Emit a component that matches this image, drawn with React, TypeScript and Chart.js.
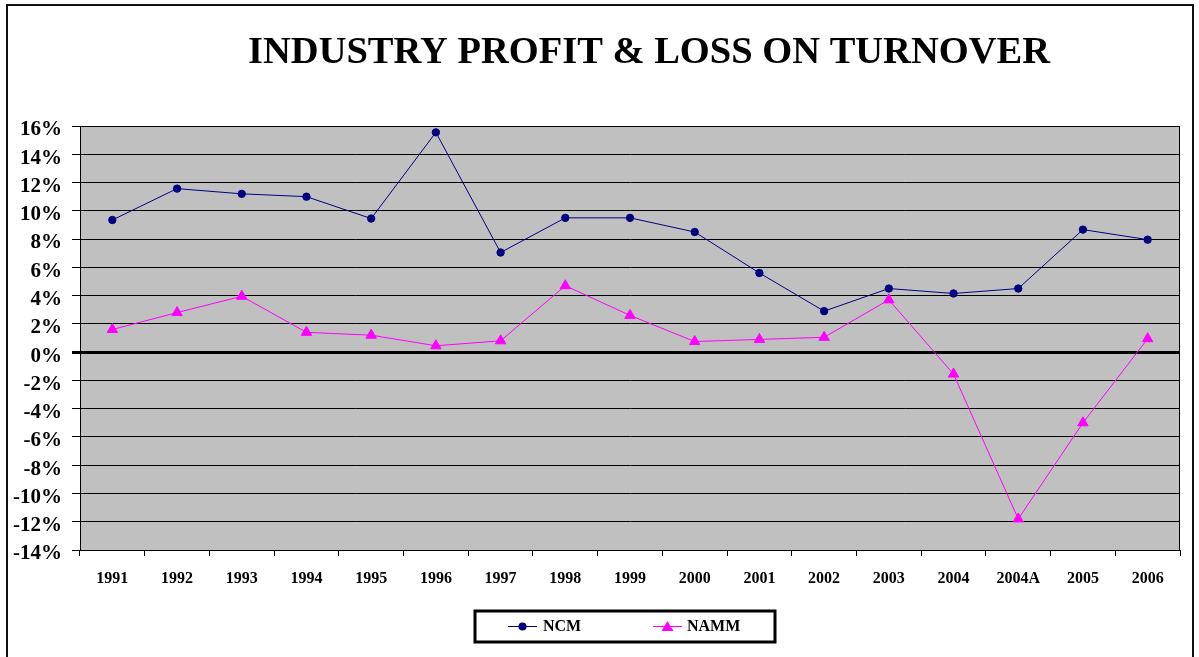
import React, { useEffect, useRef } from "react";
import { Chart, registerables } from "chart.js";

Chart.register(...registerables);

const categories = ["1991", "1992", "1993", "1994", "1995", "1996", "1997", "1998", "1999", "2000", "2001", "2002", "2003", "2004", "2004A", "2005", "2006"];
const ncmValues = [9.35, 11.57, 11.2, 11.0, 9.45, 15.55, 7.05, 9.5, 9.5, 8.5, 5.6, 2.9, 4.5, 4.15, 4.5, 8.67, 7.96];
const nammValues = [1.6, 2.8, 3.95, 1.4, 1.2, 0.45, 0.8, 4.7, 2.6, 0.75, 0.9, 1.05, 3.7, -1.55, -11.8, -5.0, 0.95];
const yMin = -14;
const yMax = 16;
const yStep = 2;
const titleText = "INDUSTRY PROFIT & LOSS ON TURNOVER";
const seriesNames = ["NCM", "NAMM"];

const FONT = '"Liberation Serif", "Times New Roman", serif';

export default function App() {
  const ref = useRef<HTMLCanvasElement | null>(null);

  useEffect(() => {
    document.body.style.margin = "0";
    const canvas = ref.current;
    if (!canvas) return;

    const decor = {
      id: "decor",
      beforeDraw(chart: any) {
        const { ctx, chartArea } = chart;
        ctx.save();
        ctx.fillStyle = "#ffffff";
        ctx.fillRect(0, 0, chart.width, chart.height);
        ctx.fillStyle = "#C0C0C0";
        ctx.fillRect(chartArea.left, chartArea.top, chartArea.right - chartArea.left, chartArea.bottom - chartArea.top);
        ctx.restore();
      },
      afterDraw(chart: any) {
        const { ctx, chartArea } = chart;
        ctx.save();
        // plot border
        ctx.strokeStyle = "#000";
        ctx.lineWidth = 1;
        ctx.strokeRect(chartArea.left + 0.5, chartArea.top + 0.5, chartArea.right - chartArea.left - 1, chartArea.bottom - chartArea.top);
        // outer frame
        ctx.lineWidth = 2;
        ctx.strokeStyle = "#111";
        ctx.strokeRect(7, 5, 1186, 700);
        // title
        ctx.fillStyle = "#000";
        ctx.font = `bold 38.5px ${FONT}`;
        ctx.textAlign = "center";
        ctx.textBaseline = "alphabetic";
        ctx.fillText(titleText, 649, 63);
        // legend box
        ctx.lineWidth = 3;
        ctx.strokeStyle = "#000";
        ctx.strokeRect(475, 611, 300, 31);
        const ds = chart.data.datasets;
        const items = [
          { x0: 508, x1: 537, tx: 543, d: ds[0] },
          { x0: 653, x1: 682, tx: 687, d: ds[1] },
        ];
        const ly = 626;
        items.forEach((it, i) => {
          ctx.strokeStyle = it.d.borderColor;
          ctx.lineWidth = 1;
          ctx.beginPath();
          ctx.moveTo(it.x0, ly + 0.5);
          ctx.lineTo(it.x1, ly + 0.5);
          ctx.stroke();
          ctx.fillStyle = it.d.pointBackgroundColor;
          const cx = (it.x0 + it.x1) / 2;
          if (i === 0) {
            ctx.beginPath();
            ctx.arc(cx, ly + 0.5, 4, 0, Math.PI * 2);
            ctx.fill();
          } else {
            ctx.beginPath();
            ctx.moveTo(cx, ly - 5);
            ctx.lineTo(cx + 6, ly + 5);
            ctx.lineTo(cx - 6, ly + 5);
            ctx.closePath();
            ctx.fill();
          }
          ctx.fillStyle = "#000";
          ctx.font = `bold 16px ${FONT}`;
          ctx.textAlign = "left";
          ctx.textBaseline = "middle";
          ctx.fillText(seriesNames[i], it.tx, ly + 1);
        });
        ctx.restore();
      },
    };

    const chart = new Chart(canvas, {
      type: "line",
      data: {
        labels: categories,
        datasets: [
          {
            label: seriesNames[0],
            data: ncmValues,
            borderColor: "#000080",
            backgroundColor: "#000080",
            pointBackgroundColor: "#000080",
            pointBorderColor: "#000080",
            borderWidth: 1,
            pointStyle: "circle",
            pointRadius: 3.7,
            tension: 0,
          },
          {
            label: seriesNames[1],
            data: nammValues,
            borderColor: "#FF00FF",
            backgroundColor: "#FF00FF",
            pointBackgroundColor: "#FF00FF",
            pointBorderColor: "#FF00FF",
            borderWidth: 1,
            pointStyle: "triangle",
            pointRadius: 6,
            tension: 0,
          },
        ],
      },
      options: {
        responsive: false,
        animation: false,
        devicePixelRatio: 1,
        layout: { padding: { left: 0, top: 126, right: 19, bottom: 0 } },
        plugins: {
          legend: { display: false },
          title: { display: false },
          tooltip: { enabled: false },
        },
        scales: {
          x: {
            type: "category",
            offset: true,
            grid: {
              display: true,
              offset: true,
              drawOnChartArea: false,
              drawTicks: true,
              tickLength: 6,
              color: "#000",
            },
            border: { display: true, color: "#000", width: 1 },
            ticks: {
              color: "#000",
              font: { family: FONT, size: 16, weight: "bold" },
              padding: 13,
              maxRotation: 0,
              autoSkip: false,
            },
            afterFit(scale: any) {
              scale.height = 107;
            },
          },
          y: {
            min: yMin,
            max: yMax,
            ticks: {
              stepSize: yStep,
              autoSkip: false,
              color: "#000",
              font: { family: FONT, size: 21, weight: "bold" },
              padding: 10,
              labelOffset: 4,
              callback: (v: any) => `${v}%`,
            },
            grid: {
              color: "#000",
              lineWidth: (c: any) => (c.tick && c.tick.value === 0 ? 3 : 1),
              tickLength: 8,
              drawTicks: true,
            },
            border: { display: true, color: "#000", width: 1 },
            afterFit(scale: any) {
              scale.width = 80;
            },
          },
        },
      },
      plugins: [decor],
    } as any);

    return () => chart.destroy();
  }, []);

  return (
    <div style={{ position: "fixed", left: 0, top: 0, width: 1199, height: 657 }}>
      <canvas ref={ref} width={1199} height={657} style={{ width: 1199, height: 657, display: "block" }} />
    </div>
  );
}
